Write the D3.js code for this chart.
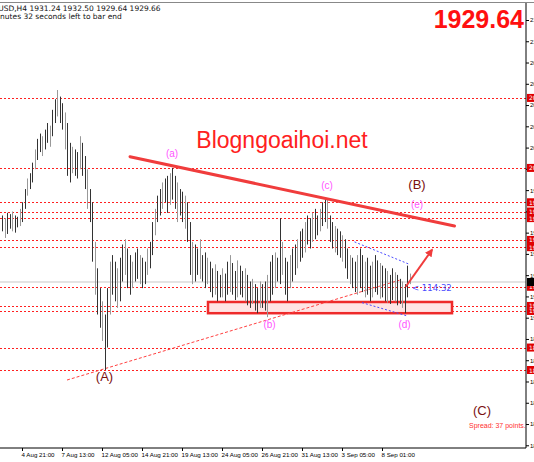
<!DOCTYPE html>
<html><head><meta charset="utf-8">
<script src="https://cdn.jsdelivr.net/npm/d3@7"></script>
<style>body{margin:0;background:#fff}svg{display:block;font-family:Tahoma,"DejaVu Sans",sans-serif}</style>
</head><body><svg width="534" height="462"></svg>
<script>
// XAUUSD H4 bars (high / low), one per 4h bar
var highs = [1980,1978,1982,1981,1983,1980,1979,1985, 1990,2000,2008,2012,2020,2030,2038,2042,
  2040,2045,2050,2048,2060,2068,2075,2070, 2065,2058,2050,2035,2032,2030,2028,2040,
  2035,2025,2015,2000,1990,1960,1940,1925, 1915,1905,1925,1945,1950,1945,1940,1948,
  1958,1962,1955,1950,1945,1952,1955,1950, 1948,1945,1955,1960,1975,1985,1995,2000,
  2005,2008,2010,2012,2016,2010,2005,2000, 1998,1995,1990,1975,1960,1958,1955,1962,
  1950,1952,1948,1945,1940,1943,1938,1935, 1940,1936,1945,1950,1944,1938,1946,1942,
  1938,1940,1935,1930,1932,1928,1925,1930, 1928,1930,1935,1945,1950,1952,1948,1978,
  1960,1948,1945,1950,1955,1958,1962,1968, 1970,1975,1980,1978,1982,1985,1980,1985,
  1990,1993,1992,1980,1975,1972,1970,1968, 1965,1962,1955,1950,1948,1945,1950,1955,
  1950,1945,1948,1942,1945,1950,1946,1944, 1942,1940,1938,1935,1940,1937,1935,1932,
  1930,1928,1942,1936];
var lows = [1968,1963,1966,1970,1968,1967,1971,1972, 1975,1985,1995,2000,2005,2015,2022,2028,
  2025,2030,2035,2032,2040,2050,2055,2050, 2045,2030,2010,2005,2012,2010,2008,2015,
  2010,2000,1985,1975,1945,1920,1905,1895, 1885,1863,1880,1905,1920,1915,1910,1915,
  1930,1935,1925,1920,1925,1930,1932,1928, 1925,1928,1935,1940,1950,1965,1975,1980,
  1985,1990,1982,1988,1992,1985,1975,1980, 1975,1970,1960,1935,1928,1930,1935,1932,
  1930,1925,1928,1922,1918,1920,1915,1918, 1918,1915,1920,1922,1920,1916,1918,1920,
  1918,1915,1912,1910,1913,1908,1906,1910, 1910,1908,1903,1915,1920,1925,1930,1928,
  1935,1920,1915,1925,1930,1935,1940,1945, 1948,1952,1958,1955,1960,1962,1965,1968,
  1972,1975,1970,1960,1955,1952,1950,1948, 1945,1940,1932,1928,1925,1922,1920,1925,
  1922,1918,1920,1915,1918,1922,1920,1917, 1918,1915,1914,1913,1916,1915,1912,1913,
  1910,1906,1918,1928];
var timeLabels = ["2020","4 Aug 21:00","7 Aug 13:00","12 Aug 05:00","14 Aug 21:00","19 Aug 13:00",
  "24 Aug 05:00","26 Aug 21:00","31 Aug 13:00","3 Sep 05:00","8 Sep 01:00"];
var levels = [2069,2016,1990,1983,1978,1961.5,1956,1926,1911.5,1907.7,1880,1863];
var lastPrice = 1929.64;
var waveLabels = [
  {t:"(a)", i:68, p:2024, c:"#ff55ff"}, {t:"(b)", i:107, p:1895, c:"#ff55ff"},
  {t:"(c)", i:130, p:2000, c:"#ff55ff"}, {t:"(d)", i:161, p:1895, c:"#ff55ff"},
  {t:"(e)", i:166, p:1986, c:"#ff55ff"}, {t:"(B)", i:166, p:2000, c:"#7a1010"},
  {t:"(A)", i:41, p:1855, c:"#7a1010"}, {t:"(C)", i:192, p:1829, c:"#7a1010"}];

var svg = d3.select("svg");
var W = 526, H = 448;
var x = d3.scaleLinear().domain([0, 1]).range([2, 4.5]);
var y = d3.scaleLinear().domain([1863, 2075]).range([370, 90]);

svg.append("line").attr("x1",0).attr("x2",534).attr("y1",2.5).attr("y2",2.5).attr("stroke","#888");

// horizontal levels
svg.selectAll(".lvl").data(levels).enter().append("line")
  .attr("x1",0).attr("x2",W).attr("y1",d=>Math.round(y(d))+.5).attr("y2",d=>Math.round(y(d))+.5)
  .attr("stroke","#ff2020").attr("stroke-dasharray","2,2").attr("stroke-width",1);

// current price line
svg.append("line").attr("x1",0).attr("x2",W).attr("y1",y(lastPrice)).attr("y2",y(lastPrice)).attr("stroke","#c8c8c8");

// support box
svg.append("rect").attr("x",x(82.4)).attr("y",y(1914.5)).attr("width",x(180)-x(82.4)).attr("height",y(1906)-y(1914.5))
  .attr("fill","#ffe4e4").attr("stroke","#ee2a2a").attr("stroke-width",2.5);

// dotted trend line from (A)
svg.append("line").attr("x1",x(26)).attr("y1",y(1855.4)).attr("x2",x(159)).attr("y2",y(1931))
  .attr("stroke","#ff4040").attr("stroke-dasharray","3,2");

// blue channel
var blue = [[[141,1960],[163,1943]],[[144,1914],[162,1904]]];
blue.forEach(function(s){
  svg.append("line").attr("x1",x(s[0][0])).attr("y1",y(s[0][1])).attr("x2",x(s[1][0])).attr("y2",y(s[1][1]))
    .attr("stroke","#4a4aff").attr("stroke-dasharray","2,2");
});
svg.append("text").attr("x",x(164)).attr("y",y(1923)).attr("font-size",8.5).attr("fill","#4a4aff").text("< 114:32");

// bars
svg.selectAll(".bar").data(highs).enter().append("line")
  .attr("x1",(d,i)=>Math.round(x(i))+.5).attr("x2",(d,i)=>Math.round(x(i))+.5)
  .attr("y1",d=>y(d)).attr("y2",(d,i)=>y(lows[i]))
  .attr("stroke",(d,i)=>i%3==1?"#999":"#333").attr("stroke-width",1);

// resistance line
svg.append("line").attr("x1",x(51.2)).attr("y1",y(2024.5)).attr("x2",x(181)).attr("y2",y(1972))
  .attr("stroke","#f03c3c").attr("stroke-width",3).attr("stroke-linecap","round");

// arrow
svg.append("defs").append("marker").attr("id","ah").attr("viewBox","0 0 10 10").attr("refX",8).attr("refY",5)
  .attr("markerWidth",4).attr("markerHeight",4).attr("orient","auto")
  .append("path").attr("d","M0,0L10,5L0,10z").attr("fill","#f03c3c");
svg.append("line").attr("x1",x(161.5)).attr("y1",y(1926)).attr("x2",x(172)).attr("y2",y(1954))
  .attr("stroke","#f03c3c").attr("stroke-width",2).attr("marker-end","url(#ah)");

// wave labels
svg.selectAll(".wl").data(waveLabels).enter().append("text")
  .attr("x",d=>x(d.i)).attr("y",d=>y(d.p)).attr("text-anchor","middle")
  .attr("font-size",d=>d.c=="#ff55ff"?10:13).attr("font-family","Arial, Liberation Sans")
  .attr("fill",d=>d.c).text(d=>d.t);

svg.append("text").attr("x",282).attr("y",148).attr("text-anchor","middle").attr("font-size",23)
  .attr("font-family","Arial, Liberation Sans").attr("fill","#ff2020").text("Blogngoaihoi.net");
svg.append("text").attr("x",524).attr("y",28).attr("text-anchor","end").attr("font-size",25).attr("font-weight","bold")
  .attr("font-family","Arial, Liberation Sans").attr("fill","#ff1010").text(lastPrice.toFixed(2));
svg.append("text").attr("x",469).attr("y",428).attr("font-size",7).attr("font-family","Arial, Liberation Sans")
  .attr("fill","#ff3030").text("Spread: 37 points.");
svg.append("text").attr("x",-4).attr("y",11).attr("font-size",7.5).attr("fill","#111")
  .text("JUSD,H4  1931.24 1932.50 1929.64 1929.66");
svg.append("text").attr("x",-2).attr("y",19).attr("font-size",7.5).attr("fill","#111")
  .text("inutes 32 seconds left to bar end");

// axes
var yAxis = d3.axisRight(y).tickValues(d3.range(1806, 2140, 16.1)).tickSize(3).tickFormat(d=>Math.round(d));
svg.append("g").attr("transform","translate("+W+",0)").call(yAxis)
  .call(g=>g.select(".domain").attr("d","M0,3V"+H))
  .selectAll("text").attr("font-size",6).attr("x",4);
// red level labels on the axis
svg.selectAll(".lvlb").data(levels).enter().append("rect")
  .attr("x",W+1).attr("y",d=>y(d)-4).attr("width",8).attr("height",8).attr("fill","#e00000");
svg.selectAll(".lvlt").data(levels).enter().append("text")
  .attr("x",W+3).attr("y",d=>y(d)+2.5).attr("font-size",6).attr("fill","#fff").text(d=>Math.round(d));
svg.append("rect").attr("x",W+1).attr("y",y(lastPrice)-4).attr("width",8).attr("height",8).attr("fill","#000");
var tickIdx = timeLabels.map((d,k)=>k==0?-8:8+16*(k-1));
var xAxis = d3.axisBottom(x).tickValues(tickIdx).tickSize(3).tickFormat((d,k)=>timeLabels[k]);
svg.append("g").attr("transform","translate(0,"+H+")").call(xAxis)
  .call(g=>g.select(".domain").attr("d","M0,0H"+W))
  .selectAll("text").attr("font-size",6.2).attr("text-anchor","start").attr("x",-1).attr("y",5);
</script></body></html>
